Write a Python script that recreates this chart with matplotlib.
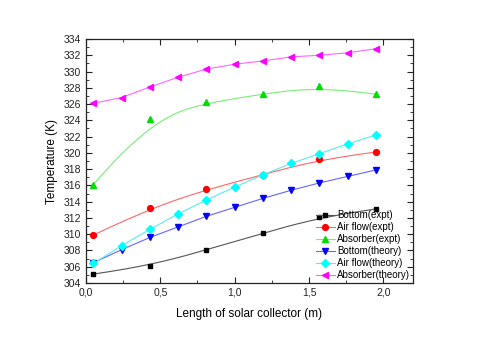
import numpy as np
import matplotlib.pyplot as plt
from matplotlib.ticker import MultipleLocator, FuncFormatter

plt.rcParams['font.family'] = ['Liberation Sans', 'DejaVu Sans']

x_expt = [0.05, 0.43, 0.81, 1.19, 1.57, 1.95]
x_theory = [0.05, 0.24, 0.43, 0.62, 0.81, 1.00, 1.19, 1.38, 1.57, 1.76, 1.95]

bottom_expt = [305.1, 306.1, 308.1, 310.1, 312.1, 313.1]
airflow_expt = [309.9, 313.2, 315.5, 317.3, 319.2, 320.1]
absorber_expt = [316.1, 324.2, 326.2, 327.2, 328.2, 327.2]

bottom_theory = [306.5, 308.1, 309.6, 310.9, 312.2, 313.3, 314.4, 315.4, 316.3, 317.1, 317.9]
airflow_theory = [306.4, 308.6, 310.6, 312.5, 314.2, 315.8, 317.3, 318.7, 319.9, 321.1, 322.2]
absorber_theory = [326.1, 326.8, 328.1, 329.3, 330.3, 330.9, 331.3, 331.8, 332.0, 332.3, 332.8]


def bspline(px, py, k=3, n=200):
    # clamped B-spline using the points as control points (Origin style)
    P = np.column_stack([px, py])
    m = len(P)
    knots = np.concatenate([np.zeros(k), np.linspace(0, 1, m - k + 1), np.ones(k)])
    t = np.linspace(0, 1 - 1e-9, n)

    def basis(i, d, t):
        if d == 0:
            return ((knots[i] <= t) & (t < knots[i + 1])).astype(float)
        a = 0.0
        b = 0.0
        if knots[i + d] != knots[i]:
            a = (t - knots[i]) / (knots[i + d] - knots[i]) * basis(i, d - 1, t)
        if knots[i + d + 1] != knots[i + 1]:
            b = (knots[i + d + 1] - t) / (knots[i + d + 1] - knots[i + 1]) * basis(i + 1, d - 1, t)
        return a + b

    B = np.array([basis(i, k, t) for i in range(m)])
    curve = B.T @ P
    return curve[:, 0], curve[:, 1]


fig = plt.figure(figsize=(4.8, 3.4), dpi=100)
ax = fig.add_axes([86 / 480, 1 - 283 / 340, (413 - 86) / 480, (283 - 39) / 340])

expt = [
    (bottom_expt, 's', 3.5, '#000000', '#555555', 'Bottom(expt)'),
    (airflow_expt, 'o', 4.2, '#ff0000', '#ff6666', 'Air flow(expt)'),
    (absorber_expt, '^', 4.5, '#00dd00', '#77ee77', 'Absorber(expt)'),
]
theory = [
    (bottom_theory, 'v', 4.5, '#0000ff', '#6666ff', 'Bottom(theory)'),
    (airflow_theory, 'D', 3.8, '#00ffff', '#55eeee', 'Air flow(theory)'),
    (absorber_theory, '<', 4.5, '#ff00ff', '#ff66ff', 'Absorber(theory)'),
]

handles = []
for vals, mk, ms, mc, lc, lab in expt:
    cx, cy = bspline(x_expt, vals)
    ax.plot(cx, cy, color=lc, lw=0.8)
    ax.plot(x_expt, vals, mk, color=mc, ms=ms, ls='none')
    h, = ax.plot([], [], color=lc, lw=0.8, marker=mk, mfc=mc, mec=mc, ms=ms)
    handles.append((h, lab))

for vals, mk, ms, mc, lc, lab in theory:
    h, = ax.plot(x_theory, vals, color=lc, lw=0.8, marker=mk, mfc=mc, mec=mc, ms=ms)
    handles.append((h, lab))

ax.set_xlim(0, 2.2)
ax.set_ylim(304, 334)
ax.xaxis.set_major_locator(MultipleLocator(0.5))
ax.xaxis.set_minor_locator(MultipleLocator(0.25))
ax.yaxis.set_major_locator(MultipleLocator(2))
ax.yaxis.set_minor_locator(MultipleLocator(1))
ax.xaxis.set_major_formatter(FuncFormatter(lambda v, p: f'{v:.1f}'.replace('.', ',')))
ax.tick_params(which='both', direction='in', top=True, right=True, labelsize=7.5, colors='#222222')
ax.tick_params(which='major', length=4)
ax.tick_params(which='minor', length=2)
for s in ax.spines.values():
    s.set_linewidth(0.9)
    s.set_color('#222222')

ax.set_xlabel('Length of solar collector (m)', fontsize=8.5, labelpad=7)
ax.set_ylabel('Temperature (K)', fontsize=8.5, labelpad=4)

ax.legend([h for h, _ in handles], [l for _, l in handles], loc='lower right',
          frameon=False, fontsize=7, handlelength=2.0, handletextpad=0.2,
          labelspacing=0.2, borderaxespad=0.1, borderpad=0.2)

fig.savefig('out.png', dpi=100)
